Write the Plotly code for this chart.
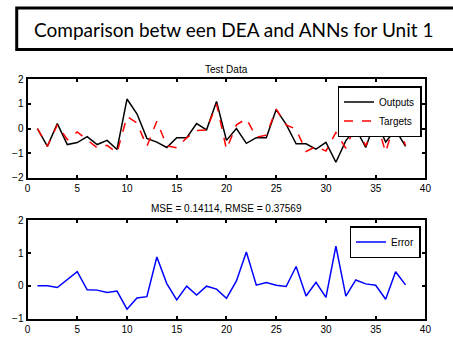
import plotly.graph_objects as go

samples = list(range(1, 39))
outputs = [0.0, -0.72, 0.2, -0.65, -0.57, -0.33, -0.65, -0.48, -0.85, 1.2,
           0.6, -0.4, -0.55, -0.77, -0.37, -0.37, 0.2, -0.05, 1.1, -0.48,
           0.0, -0.6, -0.37, -0.37, 0.77, 0.17, -0.62, -0.62, -0.84, -0.56,
           -1.37, -0.49, 0.0, -0.77, 0.37, -0.55, -0.05, -0.72]
targets = [0.0, -0.72, 0.15, -0.45, -0.14, -0.45, -0.78, -0.68, -0.98, 0.49,
           0.23, -0.73, 0.3, -0.7, -0.78, -0.38, -0.08, -0.06, 1.0, -0.84,
           0.15, 0.4, -0.35, -0.27, 0.79, 0.15, -0.03, -0.93, -0.73, -0.91,
           -0.16, -0.8, 0.18, -0.71, 0.39, -0.96, 0.38, -0.69]
error = [0.0, 0.0, -0.05, 0.2, 0.43, -0.12, -0.13, -0.2, -0.16, -0.71,
         -0.37, -0.33, 0.88, 0.07, -0.43, -0.01, -0.28, -0.01, -0.1, -0.38,
         0.15, 1.03, 0.02, 0.1, 0.02, -0.02, 0.59, -0.31, 0.11, -0.35,
         1.21, -0.31, 0.18, 0.06, 0.02, -0.41, 0.43, 0.03]

W, H = 453, 343
def px(x): return x / W
def py(y): return 1 - y / H

fig = go.Figure()
fig.add_trace(go.Scatter(x=samples, y=outputs, mode="lines", name="Outputs",
                         line=dict(color="black", width=1.5), xaxis="x", yaxis="y", legend="legend"))
fig.add_trace(go.Scatter(x=samples, y=targets, mode="lines", name="Targets",
                         line=dict(color="red", width=1.5, dash="dash"), xaxis="x", yaxis="y", legend="legend"))
fig.add_trace(go.Scatter(x=samples, y=error, mode="lines", name="Error",
                         line=dict(color="blue", width=1.5), xaxis="x2", yaxis="y2", legend="legend2"))

axis_common = dict(showline=True, linecolor="black", linewidth=2, mirror="ticks",
                   ticks="inside", ticklen=3, tickwidth=1.5, tickcolor="black",
                   showgrid=False, zeroline=False,
                   tickfont=dict(family="Liberation Sans, Arial", size=10, color="black"))

xd = [px(25), px(431)]
fig.update_layout(
    width=W, height=H, margin=dict(l=0, r=0, t=0, b=0),
    paper_bgcolor="white", plot_bgcolor="white",
    xaxis=dict(domain=xd, range=[0, 40], dtick=5, anchor="y", **axis_common),
    yaxis=dict(domain=[py(178), py(76)], range=[-2, 2], dtick=1, anchor="x", **axis_common),
    xaxis2=dict(domain=xd, range=[0, 40], dtick=5, anchor="y2", **axis_common),
    yaxis2=dict(domain=[py(324), py(222)], range=[-1, 2], dtick=1, anchor="x2", **axis_common),
    legend=dict(x=px(427), y=py(83), xanchor="right", yanchor="top",
                bgcolor="white", bordercolor="black", borderwidth=1.5,
                font=dict(family="Liberation Sans, Arial", size=10, color="black"),
                tracegroupgap=0, itemwidth=30),
    legend2=dict(x=px(426), y=py(228), xanchor="right", yanchor="top",
                 bgcolor="white", bordercolor="black", borderwidth=1.5,
                 font=dict(family="Liberation Sans, Arial", size=10, color="black"),
                 itemwidth=30),
    showlegend=True,
)

fig.add_shape(type="rect", xref="paper", yref="paper",
              x0=px(14), x1=px(470), y0=py(45), y1=py(2),
              line=dict(color="black", width=3), fillcolor="white", layer="below")

fig.add_annotation(text="Comparison betw een DEA and ANNs for Unit 1", xref="paper", yref="paper",
                   x=px(235), y=py(24), xanchor="center", yanchor="middle", showarrow=False,
                   font=dict(family="Lato, Open Sans", size=19, color="black"))
fig.add_annotation(text="Test Data", xref="paper", yref="paper",
                   x=px(228), y=py(66), xanchor="center", yanchor="middle", showarrow=False,
                   font=dict(family="Liberation Sans, Arial", size=10, color="black"))
fig.add_annotation(text="MSE = 0.14114, RMSE = 0.37569", xref="paper", yref="paper",
                   x=px(228), y=py(210), xanchor="center", yanchor="middle", showarrow=False,
                   font=dict(family="Liberation Sans, Arial", size=10, color="black"))

fig.write_html("out.html")
